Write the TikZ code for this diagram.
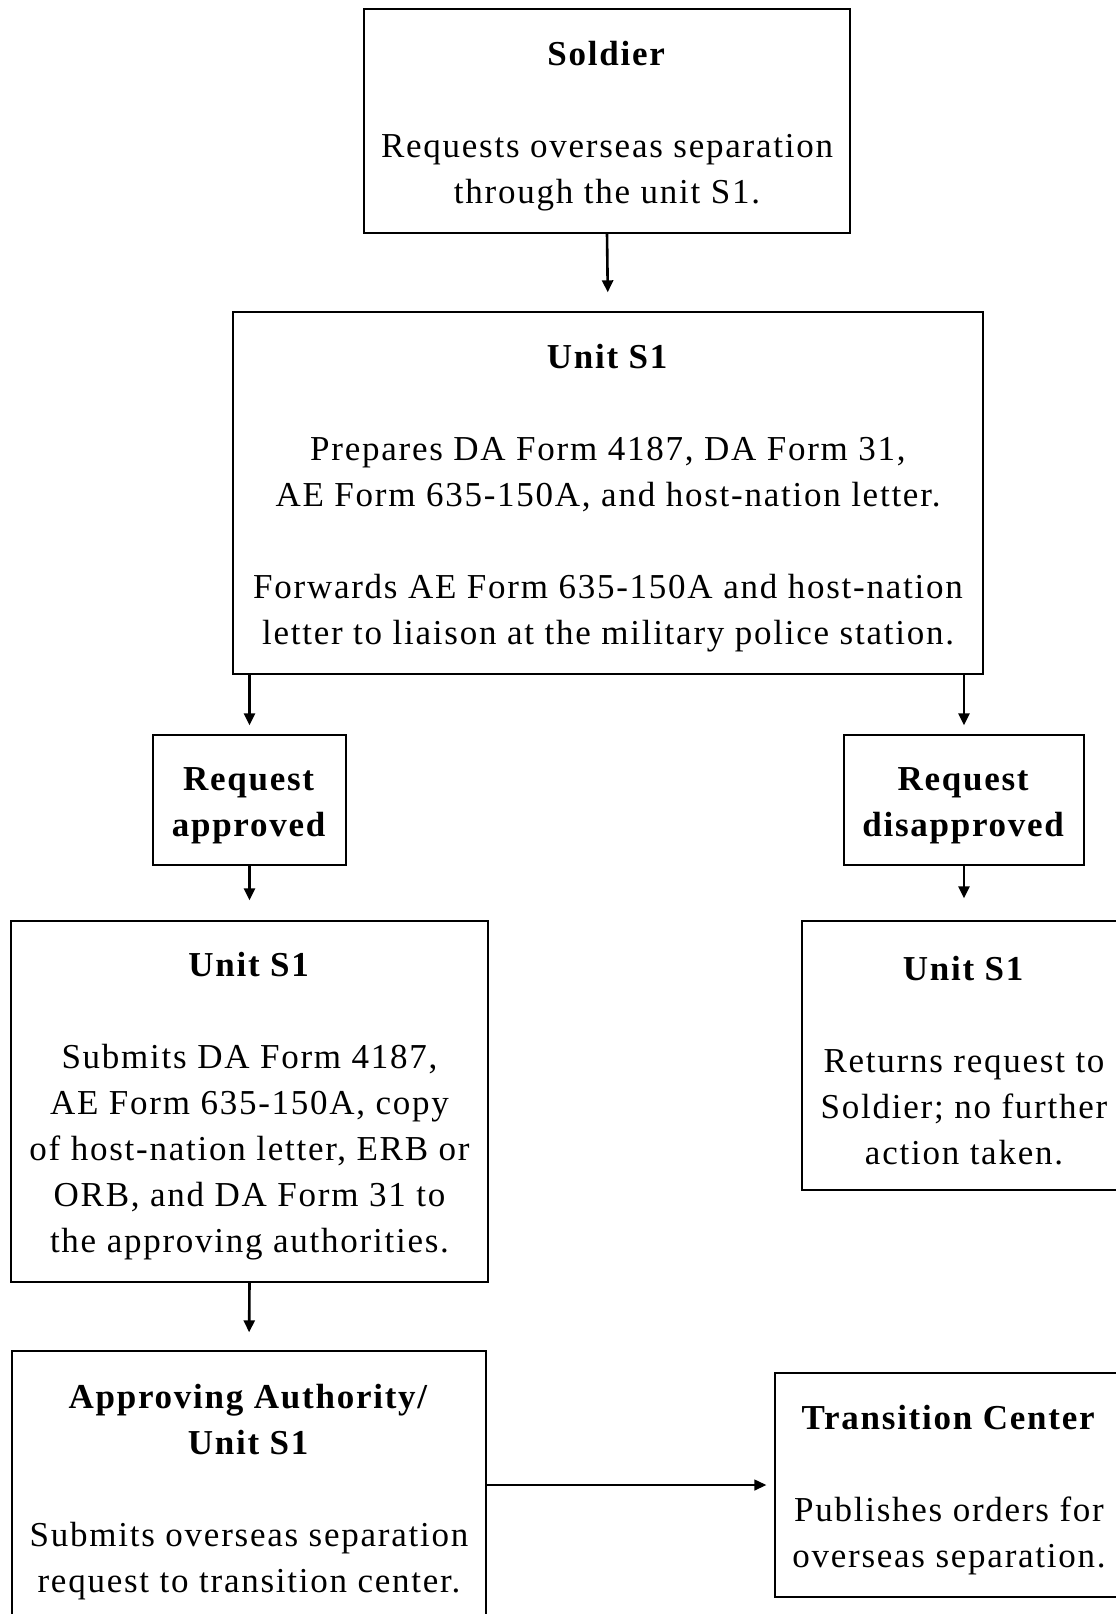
\documentclass[tikz,border=0pt]{standalone}
\usepackage{fontspec}
\setmainfont{Liberation Serif}[LetterSpace=5]
\usetikzlibrary{arrows.meta}

\newcommand{\gap}{\\[46pt]}
\newcommand{\ttl}[1]{\rule{0pt}{34pt}\textbf{#1}}

\begin{document}
\begin{tikzpicture}[x=1pt,y=1pt,
  box/.style={draw,line width=1.4pt,rectangle,inner sep=0pt,align=center,
    font=\fontsize{35}{46}\selectfont},
  flow/.style={line width=2.6pt,-{Triangle[length=12pt,width=11pt]}}]
\useasboundingbox (0,0) rectangle (1116,-1614);
\clip (0,0) rectangle (1116,-1614);
\fill[white] (0,0) rectangle (1116,-1614);
% boxes
\node[box,minimum width=486pt,minimum height=224pt] (soldier) at (607,-121)
  {\ttl{Soldier}\gap Requests overseas separation\\through the unit S1.};
\node[box,minimum width=750pt,minimum height=362pt] (unitA) at (608,-493)
  {\ttl{Unit S1}\gap Prepares DA Form 4187, DA Form 31,\\AE Form 635-150A, and host-nation letter.\gap
   Forwards AE Form 635-150A and host-nation\\letter to liaison at the military police station.};
\node[box,minimum width=193pt,minimum height=130pt] (appr) at (249.5,-800)
  {\ttl{Request}\\\textbf{approved}};
\node[box,minimum width=240pt,minimum height=130pt] (disappr) at (964,-800)
  {\ttl{Request}\\\textbf{disapproved}};
\node[box,minimum width=477pt,minimum height=361pt] (unitB) at (249.5,-1101.5)
  {\ttl{Unit S1}\gap Submits DA Form 4187,\\AE Form 635-150A, copy\\of host-nation letter, ERB or\\ORB, and DA Form 31 to\\the approving authorities.};
\node[box,minimum width=324pt,minimum height=269pt] (unitC) at (964,-1055.5)
  {\ttl{Unit S1}\gap Returns request to\\Soldier; no further\\action taken.};
\node[box,minimum width=474pt,minimum height=272pt] (auth) at (249,-1487)
  {\ttl{Approving Authority/}\\\textbf{Unit S1}\gap Submits overseas separation\\request to transition center.};
\node[box,minimum width=348pt,minimum height=224pt] (trans) at (949,-1485)
  {\ttl{Transition Center}\gap Publishes orders for\\overseas separation.};
% arrows
\draw[flow,shorten >=19pt] (soldier.south) -- (unitA.north);
\draw[flow,shorten >=9pt] (unitA.south -| appr.north) -- (appr.north);
\draw[flow,shorten >=9pt] (unitA.south -| disappr.north) -- (disappr.north);
\draw[flow,shorten >=20pt] (appr.south) -- (unitB.north);
\draw[flow,shorten >=22pt] (disappr.south) -- (unitC.north);
\draw[flow,shorten >=18pt] (unitB.south) -- (auth.north);
\draw[flow,line width=1.4pt,shorten >=8pt] (auth.east |- trans.west) -- (trans.west);
\end{tikzpicture}
\end{document}
